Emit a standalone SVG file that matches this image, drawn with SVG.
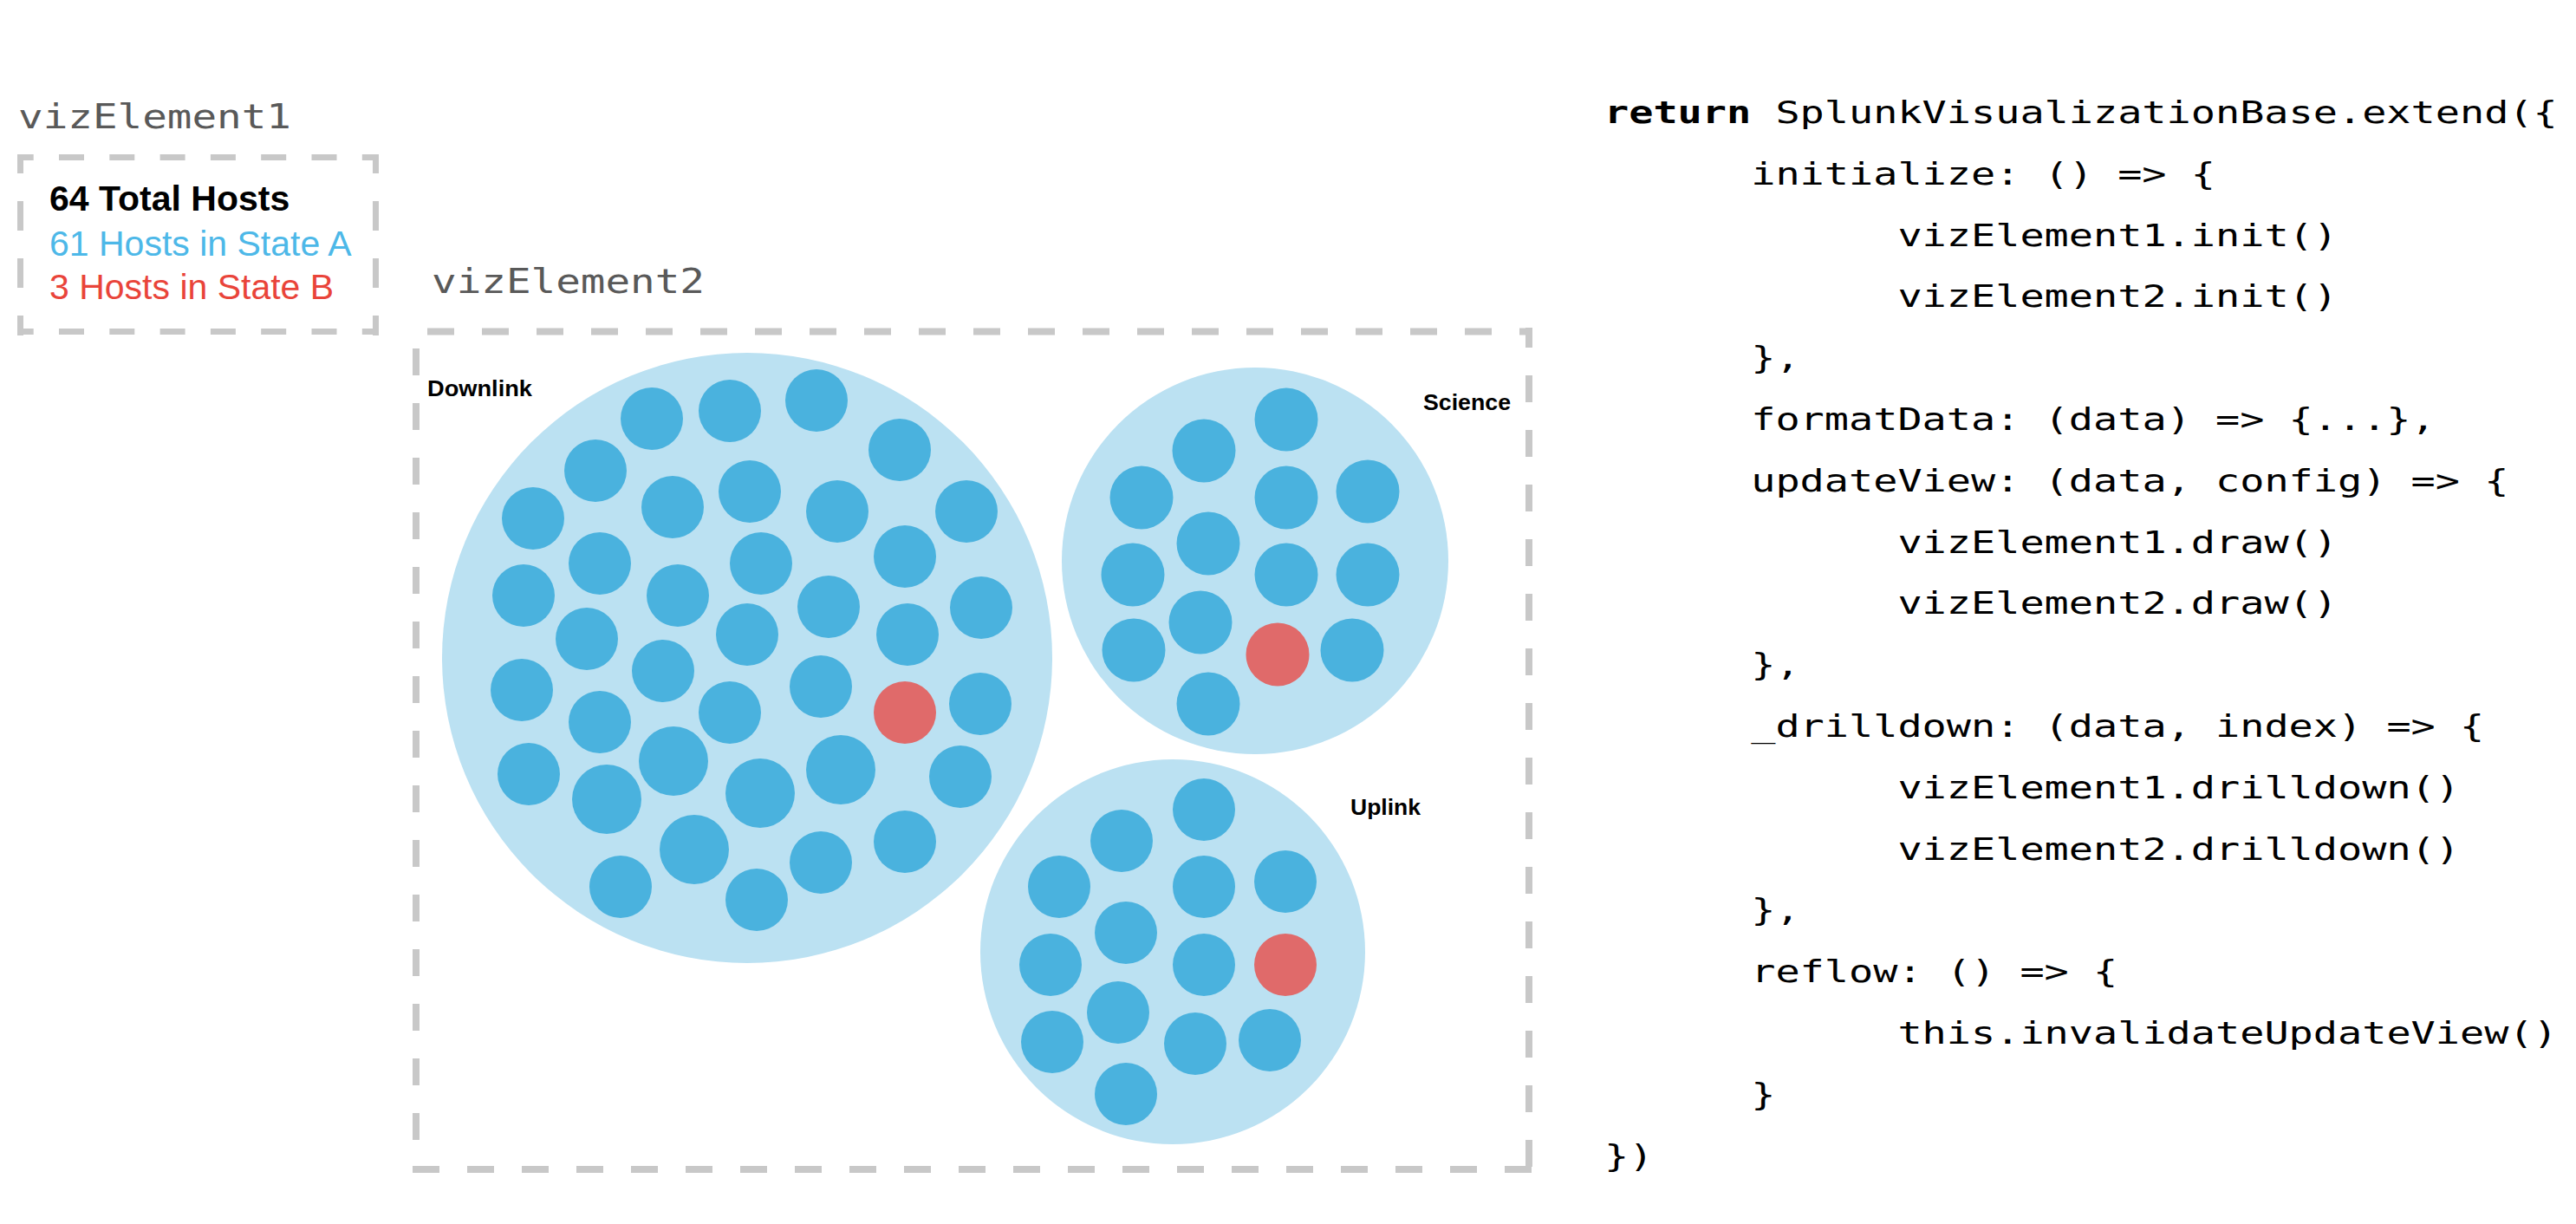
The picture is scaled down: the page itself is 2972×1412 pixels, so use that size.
<svg xmlns="http://www.w3.org/2000/svg" width="2972" height="1412" viewBox="0 0 2972 1412">
<style>
.bg{fill:#ffffff}
.dash{stroke:#c8c8c8;fill:none}
.d1{stroke-width:7}
.d2{stroke-width:8}
.grp{fill:#bbe1f2}
.bub{fill:#4ab2de}
.bad{fill:#e06a6a}
.mono{font-family:"DejaVu Sans Mono","Liberation Mono",monospace}
.code{font-size:36px;fill:#000000}
.vlabel{font-size:39px;fill:#595959}
.sans{font-family:"Liberation Sans",Arial,Helvetica,sans-serif}
.legend{font-size:41px}
.glabel{font-size:26px;font-weight:bold;fill:#000000}
</style>
<rect class="bg" x="0" y="0" width="2972" height="1412"/>

<g id="vizElement1">
  <text class="mono vlabel" x="21" y="148" textLength="315" lengthAdjust="spacingAndGlyphs">vizElement1</text>
  <line class="dash d1" x1="20" y1="181.5" x2="437" y2="181.5" stroke-dasharray="29 29.3" stroke-dashoffset="10.3"/>
  <line class="dash d1" x1="20" y1="382.5" x2="437" y2="382.5" stroke-dasharray="29 29.3" stroke-dashoffset="10.3"/>
  <line class="dash d1" x1="23.5" y1="178" x2="23.5" y2="387" stroke-dasharray="34 32" stroke-dashoffset="12"/>
  <line class="dash d1" x1="433.5" y1="178" x2="433.5" y2="387" stroke-dasharray="34 32" stroke-dashoffset="12"/>
  <text class="sans legend" x="57" y="243" font-weight="bold" fill="#000000">64 Total Hosts</text>
  <text class="sans legend" x="57" y="295" fill="#4db8e8">61 Hosts in State A</text>
  <text class="sans legend" x="57" y="345" fill="#e9443a">3 Hosts in State B</text>
</g>

<g id="vizElement2">
  <text class="mono vlabel" x="498" y="338" textLength="315" lengthAdjust="spacingAndGlyphs">vizElement2</text>
  <line class="dash d2" x1="476" y1="382.5" x2="1768" y2="382.5" stroke-dasharray="31 32" stroke-dashoffset="46"/>
  <line class="dash d2" x1="480" y1="378" x2="480" y2="1353" stroke-dasharray="31 32" stroke-dashoffset="39"/>
  <line class="dash d2" x1="476" y1="1349" x2="1768" y2="1349" stroke-dasharray="31 32" stroke-dashoffset="0"/>
  <line class="dash d2" x1="1764" y1="378" x2="1764" y2="1353" stroke-dasharray="31 32" stroke-dashoffset="8"/>
</g>

<g id="downlink">
  <circle class="grp" cx="862" cy="759" r="352"/>
  <circle class="bub" cx="752" cy="483" r="36"/>
  <circle class="bub" cx="842" cy="474" r="36"/>
  <circle class="bub" cx="942" cy="462" r="36"/>
  <circle class="bub" cx="687" cy="543" r="36"/>
  <circle class="bub" cx="1038" cy="519" r="36"/>
  <circle class="bub" cx="615" cy="598" r="36"/>
  <circle class="bub" cx="776" cy="585" r="36"/>
  <circle class="bub" cx="865" cy="567" r="36"/>
  <circle class="bub" cx="966" cy="590" r="36"/>
  <circle class="bub" cx="1115" cy="590" r="36"/>
  <circle class="bub" cx="692" cy="650" r="36"/>
  <circle class="bub" cx="604" cy="687" r="36"/>
  <circle class="bub" cx="878" cy="650" r="36"/>
  <circle class="bub" cx="1044" cy="642" r="36"/>
  <circle class="bub" cx="782" cy="687" r="36"/>
  <circle class="bub" cx="956" cy="700" r="36"/>
  <circle class="bub" cx="1132" cy="701" r="36"/>
  <circle class="bub" cx="677" cy="737" r="36"/>
  <circle class="bub" cx="862" cy="732" r="36"/>
  <circle class="bub" cx="1047" cy="732" r="36"/>
  <circle class="bub" cx="602" cy="796" r="36"/>
  <circle class="bub" cx="765" cy="774" r="36"/>
  <circle class="bub" cx="692" cy="833" r="36"/>
  <circle class="bub" cx="842" cy="822" r="36"/>
  <circle class="bub" cx="947" cy="792" r="36"/>
  <circle class="bad" cx="1044" cy="822" r="36"/>
  <circle class="bub" cx="1131" cy="812" r="36"/>
  <circle class="bub" cx="610" cy="893" r="36"/>
  <circle class="bub" cx="777" cy="878" r="40"/>
  <circle class="bub" cx="700" cy="922" r="40"/>
  <circle class="bub" cx="877" cy="915" r="40"/>
  <circle class="bub" cx="970" cy="888" r="40"/>
  <circle class="bub" cx="1108" cy="896" r="36"/>
  <circle class="bub" cx="1044" cy="971" r="36"/>
  <circle class="bub" cx="801" cy="980" r="40"/>
  <circle class="bub" cx="947" cy="995" r="36"/>
  <circle class="bub" cx="716" cy="1023" r="36"/>
  <circle class="bub" cx="873" cy="1038" r="36"/>
  <text class="sans glabel" x="493" y="457" textLength="121" lengthAdjust="spacingAndGlyphs">Downlink</text>
</g>

<g id="science">
  <circle class="grp" cx="1448" cy="647" r="223"/>
  <circle class="bub" cx="1484" cy="484" r="36.5"/>
  <circle class="bub" cx="1389" cy="520" r="36.5"/>
  <circle class="bub" cx="1317" cy="574" r="36.5"/>
  <circle class="bub" cx="1484" cy="574" r="36.5"/>
  <circle class="bub" cx="1578" cy="567" r="36.5"/>
  <circle class="bub" cx="1394" cy="627" r="36.5"/>
  <circle class="bub" cx="1307" cy="663" r="36.5"/>
  <circle class="bub" cx="1484" cy="663" r="36.5"/>
  <circle class="bub" cx="1578" cy="663" r="36.5"/>
  <circle class="bub" cx="1385" cy="718" r="36.5"/>
  <circle class="bub" cx="1308" cy="750" r="36.5"/>
  <circle class="bad" cx="1474" cy="755" r="36.5"/>
  <circle class="bub" cx="1560" cy="750" r="36.5"/>
  <circle class="bub" cx="1394" cy="812" r="36.5"/>
  <text class="sans glabel" x="1642" y="473" textLength="101" lengthAdjust="spacingAndGlyphs">Science</text>
</g>

<g id="uplink">
  <circle class="grp" cx="1353" cy="1098" r="222"/>
  <circle class="bub" cx="1389" cy="934" r="36"/>
  <circle class="bub" cx="1294" cy="970" r="36"/>
  <circle class="bub" cx="1222" cy="1023" r="36"/>
  <circle class="bub" cx="1389" cy="1023" r="36"/>
  <circle class="bub" cx="1483" cy="1017" r="36"/>
  <circle class="bub" cx="1299" cy="1076" r="36"/>
  <circle class="bub" cx="1212" cy="1113" r="36"/>
  <circle class="bub" cx="1389" cy="1113" r="36"/>
  <circle class="bad" cx="1483" cy="1113" r="36"/>
  <circle class="bub" cx="1290" cy="1168" r="36"/>
  <circle class="bub" cx="1214" cy="1202" r="36"/>
  <circle class="bub" cx="1379" cy="1204" r="36"/>
  <circle class="bub" cx="1465" cy="1200" r="36"/>
  <circle class="bub" cx="1299" cy="1262" r="36"/>
  <text class="sans glabel" x="1558" y="940" textLength="81" lengthAdjust="spacingAndGlyphs">Uplink</text>
</g>

<g id="code" class="mono code">
  <text x="1851" y="142" textLength="1099.8" lengthAdjust="spacingAndGlyphs"><tspan font-weight="bold">return</tspan> SplunkVisualizationBase.extend({</text>
  <text x="2020.2" y="212.8" textLength="535.8" lengthAdjust="spacingAndGlyphs">initialize: () =&gt; {</text>
  <text x="2189.4" y="283.6" textLength="507.6" lengthAdjust="spacingAndGlyphs">vizElement1.init()</text>
  <text x="2189.4" y="354.4" textLength="507.6" lengthAdjust="spacingAndGlyphs">vizElement2.init()</text>
  <text x="2020.2" y="425.2" textLength="56.4" lengthAdjust="spacingAndGlyphs">},</text>
  <text x="2020.2" y="496" textLength="789.6" lengthAdjust="spacingAndGlyphs">formatData: (data) =&gt; {...},</text>
  <text x="2020.2" y="566.8" textLength="874.2" lengthAdjust="spacingAndGlyphs">updateView: (data, config) =&gt; {</text>
  <text x="2189.4" y="637.6" textLength="507.6" lengthAdjust="spacingAndGlyphs">vizElement1.draw()</text>
  <text x="2189.4" y="708.4" textLength="507.6" lengthAdjust="spacingAndGlyphs">vizElement2.draw()</text>
  <text x="2020.2" y="779.2" textLength="56.4" lengthAdjust="spacingAndGlyphs">},</text>
  <text x="2020.2" y="850" textLength="846" lengthAdjust="spacingAndGlyphs">_drilldown: (data, index) =&gt; {</text>
  <text x="2189.4" y="920.8" textLength="648.6" lengthAdjust="spacingAndGlyphs">vizElement1.drilldown()</text>
  <text x="2189.4" y="991.6" textLength="648.6" lengthAdjust="spacingAndGlyphs">vizElement2.drilldown()</text>
  <text x="2020.2" y="1062.4" textLength="56.4" lengthAdjust="spacingAndGlyphs">},</text>
  <text x="2020.2" y="1133.2" textLength="423" lengthAdjust="spacingAndGlyphs">reflow: () =&gt; {</text>
  <text x="2189.4" y="1204" textLength="761.4" lengthAdjust="spacingAndGlyphs">this.invalidateUpdateView()</text>
  <text x="2020.2" y="1274.8" textLength="28.2" lengthAdjust="spacingAndGlyphs">}</text>
  <text x="1851" y="1345.6" textLength="56.4" lengthAdjust="spacingAndGlyphs">})</text>
</g>

<g id="connectors"/>
</svg>
